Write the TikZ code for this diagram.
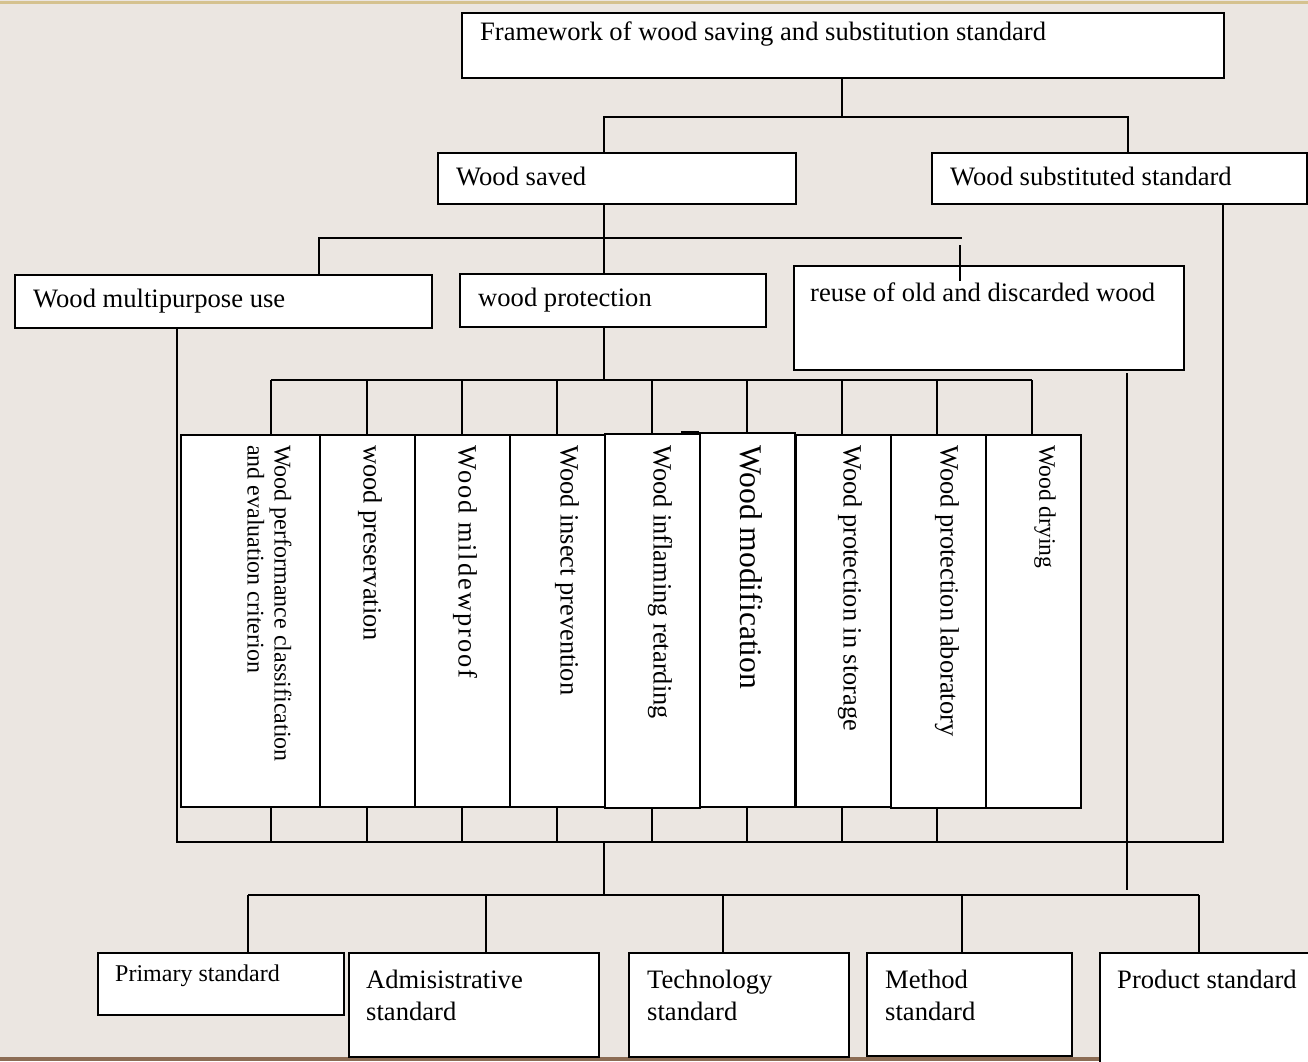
\documentclass[tikz,border=0pt]{standalone}
\usepackage{fontspec}
\setmainfont{Liberation Serif}
\newfontfamily\spacedfont[LetterSpace=7.5]{Liberation Serif}
\definecolor{bgc}{HTML}{EBE6E1}
\definecolor{tanc}{HTML}{D5C28F}
\definecolor{brownc}{HTML}{8C6D55}
\newcommand\fsm{\fontsize{26.6}{32}\selectfont}
\newcommand\fss{\fontsize{24}{28}\selectfont}
\newcommand\fsl{\fontsize{31.6}{36}\selectfont}
\newcommand\fsv{\fontsize{26.4}{27}\selectfont}
\newcommand\fsva{\fontsize{24}{27}\selectfont}
\newcommand\fsvb{\spacedfont\fontsize{26.4}{27}\selectfont}
\newcommand\fsvc{\fontsize{23.6}{27}\selectfont}
\begin{document}
\begin{tikzpicture}[x=1pt,y=1pt,
  box/.style={draw, fill=white, line width=1.5pt, inner sep=0pt, anchor=north west},
  conn/.style={line width=1.5pt},
  txt/.style={inner sep=0pt, anchor=west, font=\fsm, align=left},
  vtxt/.style={inner sep=0pt, anchor=west, rotate=-90, font=\fsv, align=left}]
\useasboundingbox (0,0) rectangle (1308,-1061);
\fill[bgc] (0,0) rectangle (1308,-1061);
\fill[tanc] (0,-1) rectangle (1308,-3.5);
\fill[brownc] (0,-1056.5) rectangle (1099,-1061);

% connectors (drawn below boxes)
\draw[conn] (842,-77) -- (842,-117);
\draw[conn] (604,-152) -- (604,-117) -- (1128,-117) -- (1128,-152);
\draw[conn] (604,-203) -- (604,-238);
\draw[conn] (319,-274) -- (319,-238) -- (962,-238);
\draw[conn] (604,-238) -- (604,-273);
\draw[conn] (177,-326) -- (177,-842) -- (1223,-842) -- (1223,-203);
\draw[conn] (604,-326) -- (604,-380);
\draw[conn] (271,-380) -- (1032,-380);
\foreach \x in {271,367,462,557,652,747,842,937,1032} {\draw[conn] (\x,-380) -- (\x,-434);}
\foreach \x in {271,367,462,557,652,747,842,937} {\draw[conn] (\x,-806) -- (\x,-842);}
\draw[conn] (604,-842) -- (604,-895);
\draw[conn] (248,-895) -- (1199,-895);
\foreach \x in {248,486,723,962,1199} {\draw[conn] (\x,-895) -- (\x,-952);}
\draw[conn] (1127,-373) -- (1127,-890);

% boxes
\node[box, minimum width=762pt, minimum height=65pt] (top) at (461,-12) {};
\node[box, minimum width=358pt, minimum height=51pt] (saved) at (437,-152) {};
\node[box, minimum width=375pt, minimum height=51pt] (subst) at (931,-152) {};
\node[box, minimum width=417pt, minimum height=53pt] (multi) at (14,-274) {};
\node[box, minimum width=306pt, minimum height=53pt] (prot) at (459,-273) {};
\node[box, minimum width=390pt, minimum height=104pt] (reuse) at (793,-265) {};
\draw[conn] (960,-245) -- (960,-281);

\node[box, minimum width=139pt, minimum height=372pt] (v1) at (180,-434) {};
\node[box, minimum width=95pt, minimum height=372pt] (v2) at (319,-434) {};
\node[box, minimum width=95pt, minimum height=372pt] (v3) at (414,-434) {};
\node[box, minimum width=95pt, minimum height=372pt] (v4) at (509,-434) {};
\node[box, minimum width=95pt, minimum height=374pt] (v5) at (604,-433) {};
\node[box, line width=2.4pt, minimum width=95pt, minimum height=374pt] (v6) at (699,-432) {};
\draw[line width=2.4pt] (681,-432) -- (699,-432);
\node[box, minimum width=95pt, minimum height=372pt] (v7) at (795,-434) {};
\node[box, minimum width=95pt, minimum height=373pt] (v8) at (890,-434) {};
\node[box, minimum width=95pt, minimum height=373pt] (v9) at (985,-434) {};

\node[box, minimum width=246pt, minimum height=62pt] (prim) at (97,-952) {};
\node[box, minimum width=250pt, minimum height=104pt] (admin) at (348,-952) {};
\node[box, minimum width=220pt, minimum height=104pt] (tech) at (628,-952) {};
\node[box, minimum width=205pt, minimum height=103pt] (meth) at (866,-952) {};
\node[box, minimum width=230pt, minimum height=130pt] (prod) at (1099,-952) {};

% texts
\node[txt] (ttop) at (480,-34) {Framework of wood saving and substitution standard};
\node[txt] (tsaved) at (456,-176) {Wood saved};
\node[txt] (tsubst) at (950,-176) {Wood substituted standard};
\node[txt] (tmulti) at (33,-301) {Wood multipurpose use};
\node[txt] (tprot) at (478,-300) {wood protection};
\node[txt] (treuse) at (810,-292) {reuse of old and discarded wood};

\node[vtxt, font=\fsva] (tv1) at (269.5,-445) {Wood performance classification\\and evaluation criterion};
\node[vtxt] (tv2) at (370,-445) {wood preservation};
\node[vtxt, font=\fsvb] (tv3) at (465,-445) {Wood mildewproof};
\node[vtxt] (tv4) at (567,-445) {Wood insect prevention};
\node[vtxt] (tv5) at (660,-445) {Wood inflaming retarding};
\node[vtxt, font=\fsl] (tv6) at (751,-445) {Wood modification};
\node[vtxt] (tv7) at (850,-445) {Wood protection in storage};
\node[vtxt] (tv8) at (947,-445) {Wood protection laboratory};
\node[vtxt, font=\fsvc] (tv9) at (1045,-445) {Wood drying};

\node[txt, font=\fss] (tprim) at (115,-976) {Primary standard};
\node[txt] (tadmin) at (366,-995) {Admisistrative\\standard};
\node[txt] (ttech) at (647,-995) {Technology\\standard};
\node[txt] (tmeth) at (885,-995) {Method\\standard};
\node[txt] (tprod) at (1117,-979) {Product standard};
\end{tikzpicture}
\end{document}
